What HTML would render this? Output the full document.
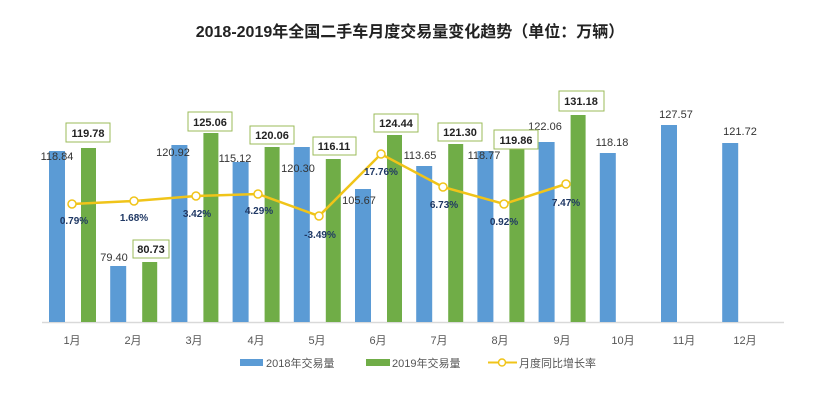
<!DOCTYPE html>
<html><head><meta charset="utf-8"><style>
html,body{margin:0;padding:0;background:#fff;}
svg{display:block;font-family:"Liberation Sans","Noto Sans CJK SC",sans-serif;}
</style></head><body>
<svg width="813" height="410" viewBox="0 0 813 410" xmlns="http://www.w3.org/2000/svg">
<text x="410" y="37" text-anchor="middle" font-size="16" font-weight="bold" fill="#222">2018-2019年全国二手车月度交易量变化趋势（单位：万辆）</text>
<line x1="42" y1="322.5" x2="784" y2="322.5" stroke="#d9d9d9" stroke-width="1.5"/>
<g fill="#5b9bd5">
<rect x="49" y="151" width="16" height="171"/>
<rect x="110.2" y="266" width="16" height="56"/>
<rect x="171.4" y="145" width="16" height="177"/>
<rect x="232.6" y="162" width="16" height="160"/>
<rect x="293.8" y="147" width="16" height="175"/>
<rect x="355" y="189" width="16" height="133"/>
<rect x="416.2" y="166" width="16" height="156"/>
<rect x="477.4" y="151" width="16" height="171"/>
<rect x="538.6" y="142" width="16" height="180"/>
<rect x="599.8" y="153" width="16" height="169"/>
<rect x="661" y="125" width="16" height="197"/>
<rect x="722.2" y="143" width="16" height="179"/>
</g>
<g fill="#70ad47">
<rect x="81" y="148" width="15" height="174"/>
<rect x="142.2" y="262" width="15" height="60"/>
<rect x="203.4" y="133" width="15" height="189"/>
<rect x="264.6" y="147" width="15" height="175"/>
<rect x="325.8" y="159" width="15" height="163"/>
<rect x="387" y="135" width="15" height="187"/>
<rect x="448.2" y="144" width="15" height="178"/>
<rect x="509.4" y="148" width="15" height="174"/>
<rect x="570.6" y="115" width="15" height="207"/>
</g>
<g font-size="11" fill="#333" text-anchor="middle">
<text x="57" y="160">118.84</text>
<text x="114" y="261">79.40</text>
<text x="173" y="156">120.92</text>
<text x="235" y="162">115.12</text>
<text x="298" y="172">120.30</text>
<text x="359" y="204">105.67</text>
<text x="420" y="159">113.65</text>
<text x="484" y="159">118.77</text>
<text x="545" y="130">122.06</text>
<text x="612" y="146">118.18</text>
<text x="676" y="118">127.57</text>
<text x="740" y="135">121.72</text>
</g>
<g font-size="11" font-weight="bold" fill="#222" text-anchor="middle">
<g fill="#fff" stroke="#9bbb59" stroke-width="1">
<rect x="66" y="123" width="44" height="19"/>
<rect x="133" y="240" width="36" height="18"/>
<rect x="188" y="112" width="44" height="19"/>
<rect x="250" y="126" width="44" height="18"/>
<rect x="313" y="137" width="43" height="18"/>
<rect x="374" y="114" width="44" height="18"/>
<rect x="438" y="123" width="44" height="18"/>
<rect x="494" y="130" width="44" height="19"/>
<rect x="559" y="91" width="45" height="20"/>
</g>
<text x="88" y="137">119.78</text>
<text x="151" y="253">80.73</text>
<text x="210" y="126">125.06</text>
<text x="272" y="139">120.06</text>
<text x="334" y="150">116.11</text>
<text x="396" y="127">124.44</text>
<text x="460" y="136">121.30</text>
<text x="516" y="144">119.86</text>
<text x="581" y="105">131.18</text>
</g>
<polyline points="72,204 134,201 196,196 258,194 319,216 381,154 443,187 504,204 566,184" fill="none" stroke="#f0c419" stroke-width="2.5"/>
<g fill="#fff" stroke="#f0c419" stroke-width="1.5">
<circle cx="72" cy="204" r="4"/><circle cx="134" cy="201" r="4"/><circle cx="196" cy="196" r="4"/><circle cx="258" cy="194" r="4"/><circle cx="319" cy="216" r="4"/><circle cx="381" cy="154" r="4"/><circle cx="443" cy="187" r="4"/><circle cx="504" cy="204" r="4"/><circle cx="566" cy="184" r="4"/>
</g>
<g font-size="10" font-weight="bold" fill="#1f3864" text-anchor="middle">
<text x="74" y="224">0.79%</text>
<text x="134" y="221">1.68%</text>
<text x="197" y="217">3.42%</text>
<text x="259" y="214">4.29%</text>
<text x="320" y="238">-3.49%</text>
<text x="381" y="175">17.76%</text>
<text x="444" y="208">6.73%</text>
<text x="504" y="225">0.92%</text>
<text x="566" y="206">7.47%</text>
</g>
<g font-size="11" fill="#555" text-anchor="middle">
<text x="72" y="344">1月</text><text x="133" y="344">2月</text><text x="194" y="344">3月</text><text x="256" y="344">4月</text><text x="317" y="344">5月</text><text x="378" y="344">6月</text><text x="439" y="344">7月</text><text x="500" y="344">8月</text><text x="562" y="344">9月</text><text x="623" y="344">10月</text><text x="684" y="344">11月</text><text x="745" y="344">12月</text>
</g>
<rect x="240" y="359" width="23" height="7" fill="#5b9bd5"/>
<text x="266" y="367" font-size="11" fill="#555">2018年交易量</text>
<rect x="366" y="359" width="24" height="7" fill="#70ad47"/>
<text x="392" y="367" font-size="11" fill="#555">2019年交易量</text>
<line x1="488" y1="362.5" x2="517" y2="362.5" stroke="#f0c419" stroke-width="2"/>
<circle cx="502" cy="362.5" r="3.5" fill="#fff" stroke="#f0c419" stroke-width="1.5"/>
<text x="519" y="367" font-size="11" fill="#555">月度同比增长率</text>
</svg>
</body></html>
